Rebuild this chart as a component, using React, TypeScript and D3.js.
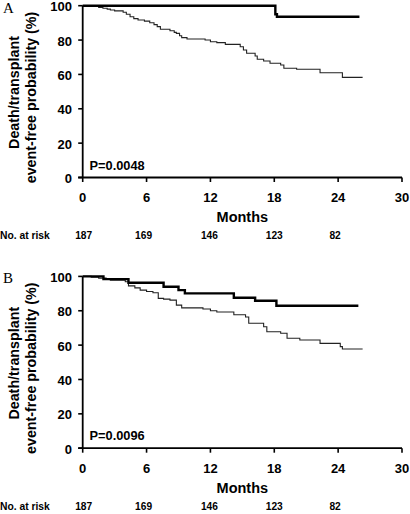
import React from "react";
import * as d3 from "d3";

// ---- data ----
const xTicks = [0, 6, 12, 18, 24, 30];
const yTicks = [0, 20, 40, 60, 80, 100];
const riskTimes = [0, 6, 12, 18, 24];
const riskCounts = [187, 169, 146, 123, 82];

// Panel A
const thickA: [number, number][] = [
  [0, 100], [18.1, 95], [18.25, 93.6], [26.0, 93.6],
];
const thinA: [number, number][] = [
  [0, 100], [1.0, 99.5], [1.5, 99], [1.9, 98.5], [2.3, 98], [2.6, 97.5], [3.0, 97],
  [3.8, 96.2], [4.1, 95], [4.45, 93.6], [4.8, 92.5], [5.2, 91.7], [5.8, 91],
  [6.3, 90.1], [6.7, 89], [7.0, 87.8], [7.3, 86.3], [8.2, 85.4], [8.6, 84.5],
  [8.8, 83.9], [9.1, 82.5], [9.3, 81.4], [9.8, 80.6], [11.5, 80], [12.0, 79],
  [12.6, 78.5], [13.4, 77.5], [14.8, 76.1], [15.1, 74.2], [15.4, 72.3], [16.2, 70.7],
  [16.4, 68.8], [17.0, 67.8], [17.6, 66.5], [18.6, 65.5], [18.9, 63.6], [20.1, 63.0],
  [22.3, 61], [24.4, 58.3], [26.3, 58.3],
];

// Panel B
const thickB: [number, number][] = [
  [0, 100], [1.95, 98.4], [4.3, 96.3], [7.6, 94], [9.0, 92], [9.6, 90.1],
  [14.2, 87.6], [16.2, 85.8], [18.2, 82.9], [25.9, 82.9],
];
const thinB: [number, number][] = [
  [0, 100], [0.8, 99.5], [1.5, 99], [2.2, 98.3], [2.6, 97.8], [4.0, 96.9], [4.3, 94.5],
  [4.9, 93.3], [5.4, 92], [6.0, 91.2], [6.6, 90.5], [7.1, 87.2], [7.6, 86.8],
  [8.2, 86.2], [8.8, 83.3], [9.3, 81.7], [11.3, 81], [12.0, 80], [12.6, 79.3],
  [14.2, 77.7], [15.3, 76.4], [15.6, 72.7], [17.0, 70.7], [17.3, 67.8], [18.6, 66.9],
  [19.2, 64], [20.4, 63], [22.3, 61], [24.2, 59.1], [24.4, 57.7], [26.3, 57.7],
];

const panels = [
  { label: "A", p: "P=0.0048", thick: thickA, thin: thinA },
  { label: "B", p: "P=0.0096", thick: thickB, thin: thinB },
];

// ---- layout ----
const W = 410, H = 514;
const panelOffset = 270.7;
const riskDx = [1, -3, -1, 0, -3];
const SANS = "'Liberation Sans', Arial, sans-serif";

const x = d3.scaleLinear().domain([0, 30]).range([82.7, 402]);
const y = d3.scaleLinear().domain([0, 100]).range([177.5, 5.7]);
const line = d3.line<[number, number]>()
  .x(d => x(d[0]))
  .y(d => y(d[1]))
  .curve(d3.curveStepAfter);

function Panel({ label, p, thick, thin, dy }: any) {
  return (
    <g transform={`translate(0,${dy})`}>
      <text x={3} y={12.7} fontFamily="'Liberation Serif', 'Times New Roman', serif" fontSize={15}>{label}</text>
      {/* y axis title */}
      <g fontFamily={SANS} fontWeight="bold" fontSize={14.3} textAnchor="middle">
        <text transform={`translate(19,92.5) rotate(-90)`}>Death/transplant</text>
        <text transform={`translate(36,97.5) rotate(-90)`}>event-free probability (%)</text>
      </g>
      {/* curves */}
      <path d={line(thin) || ""} fill="none" stroke="#222" strokeWidth={1.1} />
      <path d={line(thick) || ""} fill="none" stroke="#000" strokeWidth={2.4} />
      {/* axes */}
      <line x1={x(0)} x2={x(0)} y1={y(100)} y2={y(0)} stroke="#000" strokeWidth={1.8} />
      <line x1={x(0) - 4.5} x2={x(30)} y1={y(0)} y2={y(0)} stroke="#000" strokeWidth={1.8} />
      {yTicks.map(t => (
        <g key={"y" + t}>
          <line x1={x(0) - 4.5} x2={x(0)} y1={y(t)} y2={y(t)} stroke="#000" strokeWidth={1.6} />
          <text x={72} y={y(t)} dy="0.42em" textAnchor="end" fontFamily={SANS} fontWeight="bold" fontSize={13}>{t}</text>
        </g>
      ))}
      {xTicks.map(t => (
        <g key={"x" + t}>
          <line x1={x(t)} x2={x(t)} y1={y(0)} y2={y(0) + 4.5} stroke="#000" strokeWidth={1.6} />
          <text x={x(t)} y={202} textAnchor="middle" fontFamily={SANS} fontWeight="bold" fontSize={13}>{t}</text>
        </g>
      ))}
      <text x={(x(0) + x(30)) / 2} y={222} textAnchor="middle" fontFamily={SANS} fontWeight="bold" fontSize={14.5}>Months</text>
      <text x={89.5} y={169.5} fontFamily={SANS} fontWeight="bold" fontSize={12.8}>{p}</text>
      <text x={0} y={239} fontFamily={SANS} fontWeight="bold" fontSize={10.3}>No. at risk</text>
      {riskTimes.map((t, i) => (
        <text key={"r" + t} x={x(t) + riskDx[i]} y={239} textAnchor="middle" fontFamily={SANS} fontWeight="bold" fontSize={10.2}>{riskCounts[i]}</text>
      ))}
    </g>
  );
}

export default function App() {
  return (
    <svg width={W} height={H} style={{ position: "absolute", left: 0, top: 0, background: "#fff" }}>
      <rect width={W} height={H} fill="#fff" />
      {panels.map((pn, i) => (
        <Panel key={pn.label} label={pn.label} p={pn.p} thick={pn.thick} thin={pn.thin} dy={i * panelOffset} />
      ))}
    </svg>
  );
}
